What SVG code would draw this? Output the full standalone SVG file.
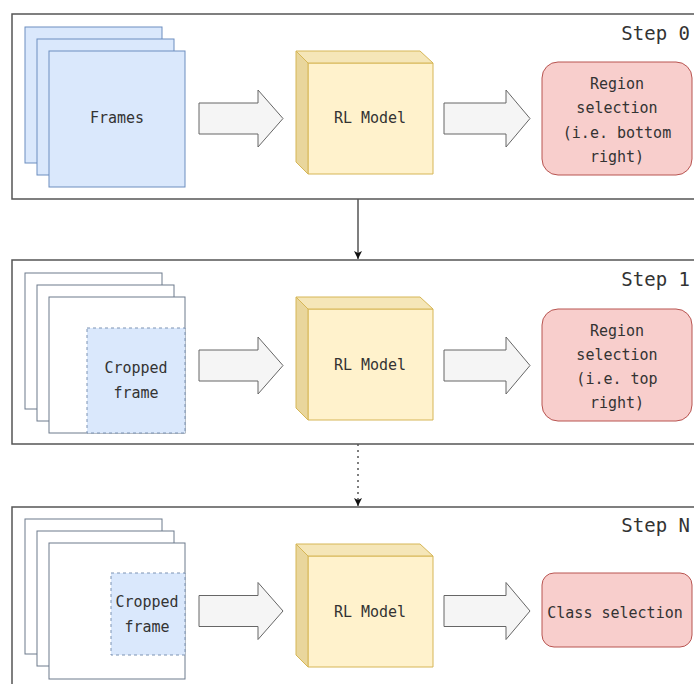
<svg xmlns="http://www.w3.org/2000/svg" width="694" height="684" viewBox="0 0 694 684">
<style>
  .step{fill:#fff;stroke:#555;stroke-width:1.5}
  .blue{fill:#dae8fc;stroke:#6c8ebf;stroke-width:1}
  .white{fill:#fff;stroke:#6c7a8c;stroke-width:1}
  .crop{fill:#dae8fc;stroke:#7d93b3;stroke-width:1;stroke-dasharray:3 3}
  .arrow{fill:#f5f5f5;stroke:#666;stroke-width:1}
  .front{fill:#fff2cc;stroke:#d6b656;stroke-width:1}
  .top{fill:#f5e6b8;stroke:#d6b656;stroke-width:1}
  .side{fill:#e9d69c;stroke:#d6b656;stroke-width:1}
  .red{fill:#f8cecc;stroke:#b85450;stroke-width:1}
  text{font-family:"DejaVu Sans Mono","Liberation Mono",monospace;font-size:15px;fill:#333;text-anchor:middle;dominant-baseline:central}
  .steptxt{font-size:19px;text-anchor:end}
  .conn{stroke:#555;stroke-width:1.5;fill:none}
</style>
<defs>
  <path id="bigArrow" d="M0,-15.5 H59 V-28.5 L84,0 L59,28.5 V15.5 H0 Z"/>
  <path id="bigArrow2" d="M0,-15.5 H62 V-28.5 L86,0 L62,28.5 V15.5 H0 Z"/>
  <g id="cube">
    <path class="front" d="M12,12 H137 V123 H12 Z"/>
    <path class="top" d="M0,0 H124 L137,12 H12 Z"/>
    <path class="side" d="M0,0 L12,12 V123 L0,111 Z"/>
  </g>
  <marker id="ah" markerWidth="10" markerHeight="10" refX="9" refY="5" orient="auto" markerUnits="userSpaceOnUse" viewBox="0 0 10 10">
    <path d="M1,1 L9,5 L1,9 L3,5 Z" fill="#111"/>
  </marker>
</defs>

<g id="step0">
  <rect class="step" x="12" y="14" width="700" height="185"/>
  <text class="steptxt" x="690" y="33">Step 0</text>
</g>
<g id="step1">
  <rect class="step" x="12" y="260" width="700" height="184"/>
  <text class="steptxt" x="690" y="279">Step 1</text>
</g>
<g id="stepN">
  <rect class="step" x="12" y="507" width="700" height="200"/>
  <text class="steptxt" x="690" y="525">Step N</text>
</g>

<g id="frames0">
  <rect class="blue" x="25" y="27" width="137" height="136"/>
  <rect class="blue" x="37" y="39" width="137" height="136"/>
  <rect class="blue" x="49" y="51" width="136" height="136"/>
  <text x="117" y="118">Frames</text>
</g>
<g id="frames1">
  <rect class="white" x="25" y="273" width="137" height="136"/>
  <rect class="white" x="37" y="285" width="137" height="136"/>
  <rect class="white" x="49" y="297" width="136" height="136"/>
  <rect class="crop" x="87" y="328" width="98" height="105"/>
  <text x="136" y="368">Cropped</text>
  <text x="136" y="393">frame</text>
</g>
<g id="framesN">
  <rect class="white" x="25" y="519" width="137" height="135"/>
  <rect class="white" x="37" y="531" width="137" height="135"/>
  <rect class="white" x="49" y="543" width="136" height="136"/>
  <rect class="crop" x="111" y="573" width="74" height="82"/>
  <text x="147" y="602">Cropped</text>
  <text x="147" y="627">frame</text>
</g>

<g id="arrows">
  <use href="#bigArrow" class="arrow" x="199" y="118.5"/>
  <use href="#bigArrow2" class="arrow" x="444" y="118.5"/>
  <use href="#bigArrow" class="arrow" x="199" y="365.5"/>
  <use href="#bigArrow2" class="arrow" x="444" y="365.5"/>
  <use href="#bigArrow" class="arrow" x="199" y="611"/>
  <use href="#bigArrow2" class="arrow" x="444" y="611"/>
</g>

<g id="rl0">
  <use href="#cube" x="296" y="51"/>
  <text x="370" y="118">RL Model</text>
</g>
<g id="rl1">
  <use href="#cube" x="296" y="297"/>
  <text x="370" y="365">RL Model</text>
</g>
<g id="rlN">
  <use href="#cube" x="296" y="544"/>
  <text x="370" y="612">RL Model</text>
</g>

<g id="region0">
  <rect class="red" x="542" y="62" width="150" height="113" rx="16"/>
  <text x="617" y="84">Region</text>
  <text x="617" y="108">selection</text>
  <text x="617" y="133">(i.e. bottom</text>
  <text x="617" y="157">right)</text>
</g>
<g id="region1">
  <rect class="red" x="542" y="309" width="150" height="112" rx="16"/>
  <text x="617" y="331">Region</text>
  <text x="617" y="355">selection</text>
  <text x="617" y="379">(i.e. top</text>
  <text x="617" y="403">right)</text>
</g>
<g id="classN">
  <rect class="red" x="542" y="573" width="150" height="74" rx="12"/>
  <text x="615" y="613">Class selection</text>
</g>

<g id="connectors">
  <line class="conn" x1="358" y1="199" x2="358" y2="259" marker-end="url(#ah)"/>
  <line class="conn" x1="358" y1="444" x2="358" y2="506" stroke-dasharray="2 4" marker-end="url(#ah)"/>
</g>
</svg>
